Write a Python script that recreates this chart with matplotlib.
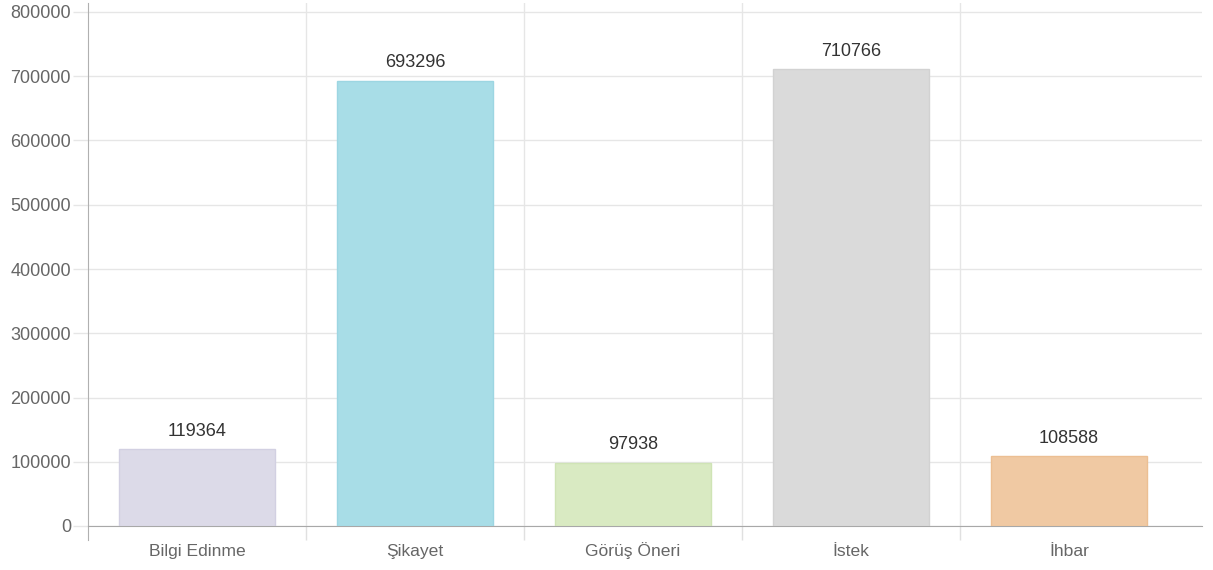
import matplotlib
matplotlib.use("Agg")
import matplotlib.pyplot as plt
from matplotlib.ticker import FixedLocator

categories = ["Bilgi Edinme", "Şikayet", "Görüş Öneri", "İstek", "İhbar"]
values = [119364, 693296, 97938, 710766, 108588]
bar_colors = ["#dcdae8", "#a8dde7", "#d9eac2", "#dadada", "#f0c9a3"]
edge_colors = ["#d2d0e2", "#9dd6e2", "#cfe4b5", "#d2d2d2", "#ecbf93"]
yticks = [0, 100000, 200000, 300000, 400000, 500000, 600000, 700000, 800000]

plt.rcParams['font.family'] = ['Liberation Sans', 'DejaVu Sans']

W, H = 1213, 570
fig = plt.figure(figsize=(W / 100, H / 100), dpi=100)
ax = fig.add_axes([88 / W, 44 / H, (1202 - 88) / W, (567 - 44) / H])

x = list(range(len(categories)))
bars = ax.bar(x, values, width=0.72, color=bar_colors, edgecolor=edge_colors,
              linewidth=1, zorder=3)

ax.set_xlim(-0.5, 4.61)
ax.set_ylim(0, 800000 + 9 * 800000 / 514)

ax.set_yticks(yticks)
ax.set_yticklabels([str(v) for v in yticks])
ax.yaxis.grid(True, color="#e6e6e6", linewidth=1, zorder=0)
ax.tick_params(axis='y', length=11, width=1, color="#e6e6e6", pad=1.2,
               labelsize=13, labelcolor="#666666")

ax.set_xticks(x)
ax.set_xticklabels(categories)
ax.xaxis.set_minor_locator(FixedLocator([0.5, 1.5, 2.5, 3.5]))
ax.tick_params(axis='x', which='major', length=0, pad=21.6, labelsize=12.6,
               labelcolor="#666666")
for lbl in ax.get_xticklabels():
    lbl.set_va('baseline')
ax.tick_params(axis='x', which='minor', length=10, width=1, color="#e0e0e0")
ax.xaxis.grid(True, which='minor', color="#e6e6e6", linewidth=1, zorder=0)

for s in ["top", "right"]:
    ax.spines[s].set_visible(False)
ax.spines["left"].set_color("#b0b0b0")
ax.spines["bottom"].set_color("#a8a8a8")
ax.spines["left"].set_bounds(-14 * 800000 / 514, 800000 + 9 * 800000 / 514)
ax.spines["left"].set_clip_on(False)

for xi, v in zip(x, values):
    ax.annotate(str(v), (xi, v), xytext=(0, 7), textcoords="offset points",
                ha="center", va="bottom", fontsize=13, color="#333333")

fig.savefig("out.png", dpi=100)
